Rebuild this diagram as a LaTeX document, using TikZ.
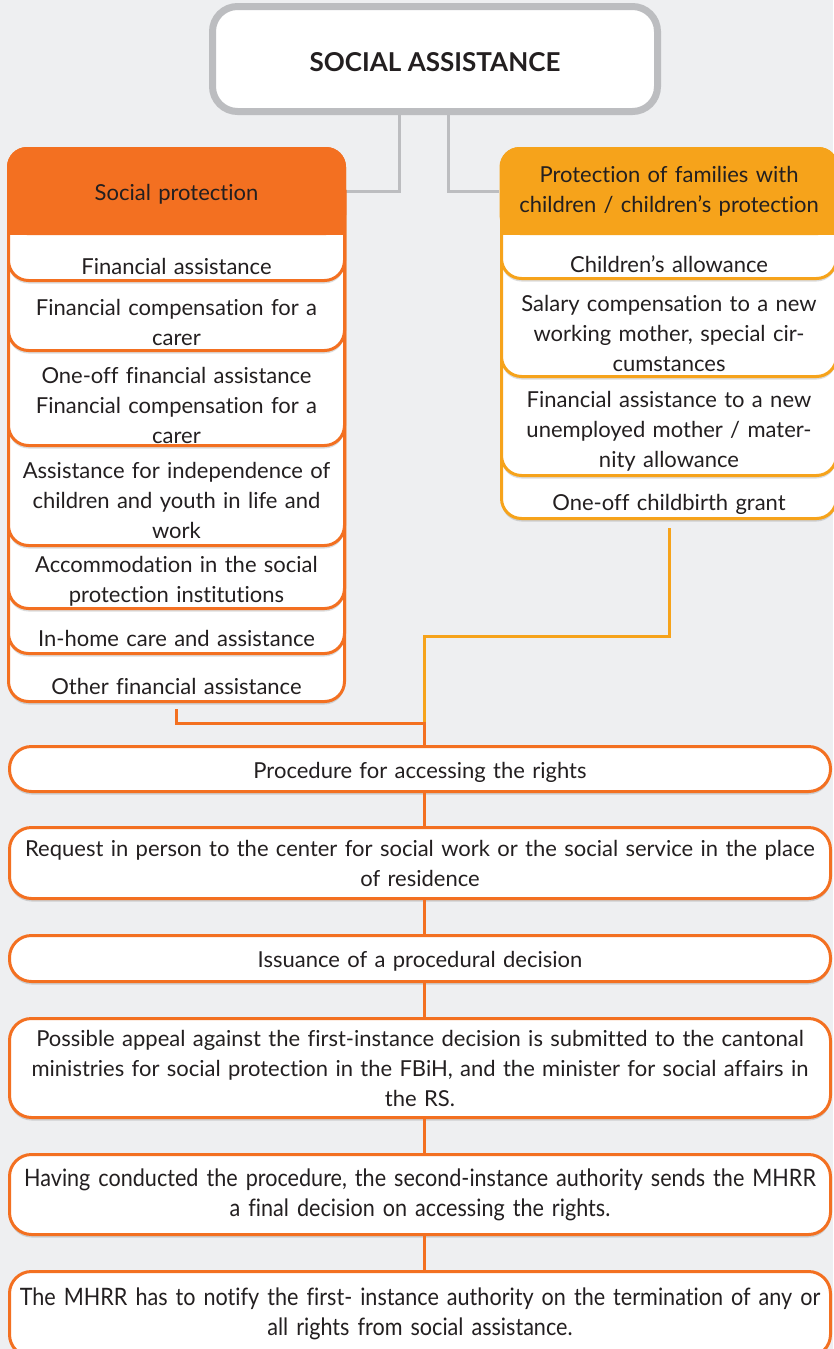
\documentclass[tikz,border=0pt]{standalone}
\usepackage{fontspec}
\setmainfont{Lato}[Ligatures=NoCommon]
\newfontfamily\narrowfont[FakeStretch=0.9, Ligatures=NoCommon]{Lato}
\usetikzlibrary{positioning,shadows}

\definecolor{bgcolor}{HTML}{EEEFF1}
\definecolor{saorange}{HTML}{F37021}
\definecolor{sayellow}{HTML}{F6A31B}
\definecolor{sagray}{HTML}{BCBDC0}
\definecolor{satext}{HTML}{231F20}

\newcommand{\lowertext}[1]{\raisebox{-3pt}[\height][\depth]{#1}}

\begin{document}
\begin{tikzpicture}[x=1pt, y=-1pt,
    font=\fontsize{22}{30}\selectfont, text=satext,
    boxshadow/.style={drop shadow={shadow xshift=0pt, shadow yshift=-3pt, opacity=0.14, fill=black}},
    topbox/.style={draw=sagray, line width=7pt, fill=white, rounded corners=25pt, minimum width=445pt, minimum height=105pt, font=\fontsize{26}{30}\selectfont\bfseries, boxshadow},
    header/.style={rounded corners=20pt, minimum width=339pt, minimum height=88pt, inner sep=0pt, text width=330pt, align=center},
    spbox/.style={draw=saorange, line width=3pt, fill=white, rounded corners=20pt, boxshadow},
    fambox/.style={draw=sayellow, line width=3pt, fill=white, rounded corners=20pt, boxshadow},
    item/.style={text width=335pt, align=center, inner sep=0pt},
    stepbox/.style={draw=saorange, line width=3pt, fill=white, rounded corners=22pt, minimum width=821pt, inner sep=0pt, text width=805pt, align=center, boxshadow},
    narrow/.style={font=\fontsize{24}{30}\narrowfont},
    graylink/.style={draw=sagray, line width=3pt},
    splink/.style={draw=saorange, line width=3pt},
    famlink/.style={draw=sayellow, line width=3pt}
]
    \fill[bgcolor] (0,0) rectangle (833,1349);
    \useasboundingbox (0,0) rectangle (833,1349);

    % headers
    \node[header, fill=saorange] (sp) at (176.5,191) {};
    \node[header, fill=sayellow] (fam) at (669,191) {};
    \node[topbox] (sa) at (435,59) {\lowertext{SOCIAL ASSISTANCE}};
    \draw[graylink] ([xshift=-36pt]sa.south) |- (sp.east);
    \draw[graylink] ([xshift=13pt]sa.south) |- (fam.west);

    % social protection column, from the bottom box up
    \draw[spbox] (8.5,170) rectangle (344.5,701.5);
    \draw[spbox] (8.5,170) rectangle (344.5,653.5);
    \draw[spbox] (8.5,170) rectangle (344.5,608.5);
    \draw[spbox] (8.5,170) rectangle (344.5,545.5);
    \draw[spbox] (8.5,170) rectangle (344.5,445.5);
    \draw[spbox] (8.5,170) rectangle (344.5,350.5);
    \draw[spbox] (8.5,170) rectangle (344.5,280.5);
    \node[header, fill=saorange] (sp) at (176.5,191) {\lowertext{Social protection}};
    \fill[saorange] ([yshift=22pt]sp.south west) rectangle ([xshift=22pt]sp.south west);
    \fill[saorange] ([yshift=22pt]sp.south east) rectangle ([xshift=-22pt]sp.south east);

    \node[item] (finass) at (176.5,266) {Financial assistance};
    \node[item] (fincomp) at (176.5,322) {Financial compensation for a\\carer};
    \node[item] (oneoff) at (176.5,405) {One-off financial assistance\\Financial compensation for a\\carer};
    \node[item] (indep) at (176.5,500) {Assistance for independence of\\children and youth in life and\\work};
    \node[item] (accom) at (176.5,581) {Accommodation in the social\\protection institutions};
    \node[item] (inhome) at (176.5,638) {In-home care and assistance};
    \node[item] (other) at (176.5,686) {Other financial assistance};

    % families with children column
    \draw[fambox] (501.5,170) rectangle (836.5,518.5);
    \draw[fambox] (501.5,170) rectangle (836.5,475.5);
    \draw[fambox] (501.5,170) rectangle (836.5,376.5);
    \draw[fambox] (501.5,170) rectangle (836.5,278.5);
    \node[header, minimum width=338pt, fill=sayellow] (fam) at (669,191) {Protection of families with\\children / children’s protection};
    \fill[sayellow] ([yshift=22pt]fam.south west) rectangle ([xshift=22pt]fam.south west);
    \fill[sayellow] ([yshift=22pt]fam.south east) rectangle ([xshift=-22pt]fam.south east);

    \node[item] (allow) at (669,264) {Children’s allowance};
    \node[item] (salary) at (669,333) {Salary compensation to a new\\working mother, special cir-\\cumstances};
    \node[item] (mother) at (669,431) {Financial assistance to a new\\unemployed mother / mater-\\nity allowance};
    \node[item] (grant) at (669,504) {One-off childbirth grant};

    % procedure
    \coordinate (jr) at (424,636);
    \coordinate (jl) at (424,723);
    \node[stepbox, minimum height=45pt] (p1) at (420,769) {\lowertext{Procedure for accessing the rights}};
    \node[stepbox, minimum height=71pt] (p2) at (420,863) {Request in person to the center for social work or the social service in the place\\of residence};
    \node[stepbox, minimum height=46pt] (p3) at (420,958.5) {\lowertext{Issuance of a procedural decision}};
    \node[stepbox, minimum height=99pt] (p4) at (420,1068) {Possible appeal against the first-instance decision is submitted to the cantonal\\ministries for social protection in the FBiH, and the minister for social affairs in\\the RS.};
    \node[stepbox, minimum height=80pt, narrow] (p5) at (420,1194.5) {Having conducted the procedure, the second-instance authority sends the MHRR\\a final decision on accessing the rights.};
    \node[stepbox, minimum height=85pt, narrow] (p6) at (420,1314) {The MHRR has to notify the first- instance authority on the termination of any or\\all rights from social assistance.};

    \draw[famlink] (grant.south -| fam.south) ++(0,14) |- (jr) -- (jr |- p1.north);
    \draw[splink] (other.south -| sp.south) ++(0,15) |- (jl) -- (jl |- p1.north);
    \foreach \a/\b in {p1/p2, p2/p3, p3/p4, p4/p5, p5/p6}
        \draw[splink] (\a.south -| jl) -- (\b.north -| jl);
\end{tikzpicture}
\end{document}
